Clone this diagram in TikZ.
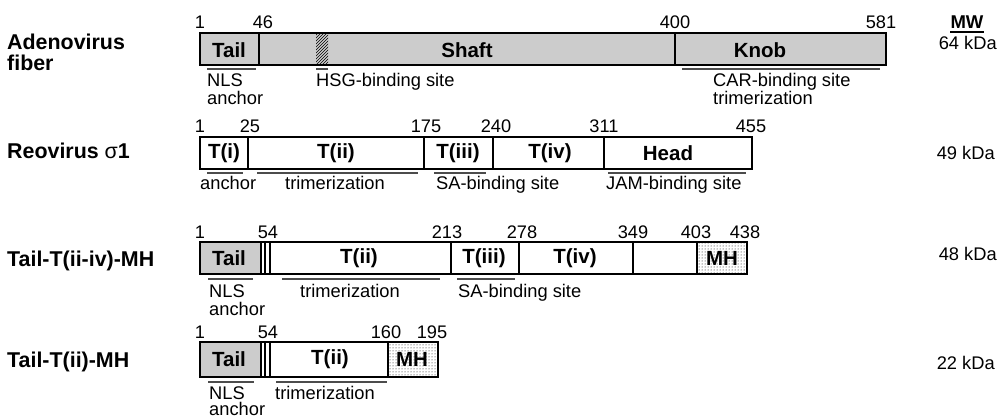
\documentclass[tikz,border=0pt]{standalone}
\usepackage{fontspec}
\setmainfont{Liberation Sans}
\usetikzlibrary{patterns}
\definecolor{segfill}{RGB}{204,204,204}
\begin{document}
\begin{tikzpicture}[x=1pt,y=-1pt,
  outline/.style={line width=1.8pt},
  divider/.style={line width=1.3pt},
  uline/.style={line width=1.1pt,black!70},
  inbox/.style={font=\fontsize{20.5}{24}\selectfont\bfseries,anchor=center,inner sep=0pt},
  rowlbl/.style={font=\fontsize{21.4}{24}\selectfont\bfseries,anchor=base west,inner sep=0pt},
  numlbl/.style={font=\fontsize{18.2}{20}\selectfont,anchor=base,inner sep=0pt},
  sitelbl/.style={font=\fontsize{18.3}{20}\selectfont,anchor=base west,inner sep=0pt},
  mwlbl/.style={font=\fontsize{18.3}{20}\selectfont,anchor=base east,inner sep=0pt}]
\useasboundingbox (0,0) rectangle (997,417);

% ---------------- Row 1: Adenovirus fiber ----------------
\node[rowlbl] (r1a) at (7,50) {Adenovirus};
\node[rowlbl] (r1b) at (7,71) {fiber};
\fill[segfill] (200,33) rectangle (886,65);
\fill[pattern=north east lines] (316,33) rectangle (328,65);
\draw[outline] (200,33) rectangle (886,65);
\draw[divider] (259,33) -- (259,65);
\draw[divider] (675,33) -- (675,65);
\node[inbox] (tail1) at (229,50) {Tail};
\node[inbox] (shaft1) at (467,50) {Shaft};
\node[inbox] (knob1) at (760,50) {Knob};
\node[numlbl] (n1a) at (200,29) {1};
\node[numlbl] (n1b) at (263,29) {46};
\node[numlbl] (n1c) at (675,29) {400};
\node[numlbl] (n1d) at (881,29) {581};
\draw[uline] (207,69) -- (256,69);
\draw[uline] (316,69) -- (328,69);
\draw[uline] (682,69) -- (880,69);
\node[sitelbl] (s1a) at (207,87) {NLS};
\node[sitelbl] (s1b) at (207,105) {anchor};
\node[sitelbl] (s1c) at (316,87) {HSG-binding site};
\node[sitelbl] (s1d) at (713,87) {CAR-binding site};
\node[sitelbl] (s1e) at (713,105) {trimerization};
\node[font=\fontsize{18.5}{20}\selectfont\bfseries,anchor=base,inner sep=0pt] (mw) at (967,29) {MW};
\draw[line width=1.3pt] ([yshift=-3pt]mw.base west) -- ([yshift=-3pt]mw.base east);
\node[mwlbl] (kd1) at (997,50) {64 kDa};

% ---------------- Row 2: Reovirus sigma1 ----------------
\node[rowlbl] (r2) at (7,159) {Reovirus {\mdseries σ}1};
\draw[outline,fill=white] (200,137) rectangle (752,169);
\foreach \xx in {248,424,493,604} \draw[divider] (\xx,137) -- (\xx,169);
\node[inbox] (t2a) at (224,153) {T(i)};
\node[inbox] (t2b) at (336,153) {T(ii)};
\node[inbox] (t2c) at (458,153) {T(iii)};
\node[inbox] (t2d) at (550,153) {T(iv)};
\node[inbox] (t2e) at (668,153) {Head};
\node[numlbl] (n2a) at (200,133) {1};
\node[numlbl] (n2b) at (250,133) {25};
\node[numlbl] (n2c) at (426,133) {175};
\node[numlbl] (n2d) at (496,133) {240};
\node[numlbl] (n2e) at (604,133) {311};
\node[numlbl] (n2f) at (751,133) {455};
\draw[uline] (207,173) -- (243,173);
\draw[uline] (257,173) -- (418,173);
\draw[uline] (434,173) -- (486,173);
\draw[uline] (608,173) -- (746,173);
\node[sitelbl] (s2a) at (200,190) {anchor};
\node[sitelbl] (s2b) at (285,190) {trimerization};
\node[sitelbl] (s2c) at (436,190) {SA-binding site};
\node[sitelbl] (s2d) at (606,190) {JAM-binding site};
\node[mwlbl] (kd2) at (995,160) {49 kDa};

% ---------------- Row 3: Tail-T(ii-iv)-MH ----------------
\node[rowlbl] (r3) at (7,266) {Tail-T(ii-iv)-MH};
\fill[white] (200,242) rectangle (747,274);
\fill[segfill] (200,242) rectangle (261,274);
\fill[pattern=dots] (697,242) rectangle (747,274);
\draw[outline] (200,242) rectangle (747,274);
\foreach \xx in {261,265,270,451,519,633,697} \draw[divider] (\xx,242) -- (\xx,274);
\node[inbox] (t3a) at (229,258) {Tail};
\node[inbox] (t3b) at (359,258) {T(ii)};
\node[inbox] (t3c) at (484,258) {T(iii)};
\node[inbox] (t3d) at (575,258) {T(iv)};
\node[inbox] (t3e) at (722,258) {MH};
\node[numlbl] (n3a) at (200,238) {1};
\node[numlbl] (n3b) at (268,238) {54};
\node[numlbl] (n3c) at (447,238) {213};
\node[numlbl] (n3d) at (522,238) {278};
\node[numlbl] (n3e) at (633,238) {349};
\node[numlbl] (n3f) at (696,238) {403};
\node[numlbl] (n3g) at (745,238) {438};
\draw[uline] (208,279) -- (253,279);
\draw[uline] (282,279) -- (440,279);
\draw[uline] (457,279) -- (515,279);
\node[sitelbl] (s3a) at (209,298) {NLS};
\node[sitelbl] (s3b) at (209,315) {anchor};
\node[sitelbl] (s3c) at (300,298) {trimerization};
\node[sitelbl] (s3d) at (458,298) {SA-binding site};
\node[mwlbl] (kd3) at (997,261) {48 kDa};

% ---------------- Row 4: Tail-T(ii)-MH ----------------
\node[rowlbl] (r4) at (7,367) {Tail-T(ii)-MH};
\fill[white] (200,342) rectangle (438,377);
\fill[segfill] (200,342) rectangle (261,377);
\fill[pattern=dots] (388,342) rectangle (438,377);
\draw[outline] (200,342) rectangle (438,377);
\foreach \xx in {261,265,270,388} \draw[divider] (\xx,342) -- (\xx,377);
\node[inbox] (t4a) at (229,359.5) {Tail};
\node[inbox] (t4b) at (330,359.5) {T(ii)};
\node[inbox] (t4c) at (412,359.5) {MH};
\node[numlbl] (n4a) at (200,338) {1};
\node[numlbl] (n4b) at (268,338) {54};
\node[numlbl] (n4c) at (386,338) {160};
\node[numlbl] (n4d) at (432,338) {195};
\draw[uline] (208,382) -- (254,382);
\draw[uline] (276,382) -- (387,382);
\node[sitelbl] (s4a) at (209,399) {NLS};
\node[sitelbl] (s4b) at (209,415) {anchor};
\node[sitelbl] (s4c) at (275,399) {trimerization};
\node[mwlbl] (kd4) at (995,369) {22 kDa};
\end{tikzpicture}
\end{document}
